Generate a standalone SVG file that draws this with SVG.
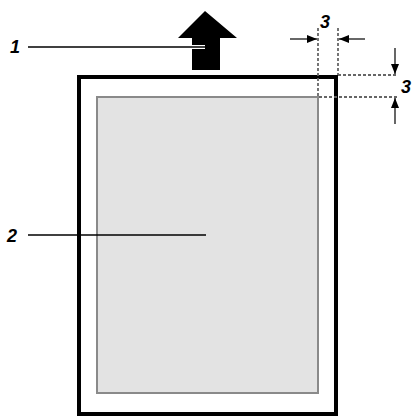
<svg xmlns="http://www.w3.org/2000/svg" width="415" height="420" viewBox="0 0 415 420">
<style>
.lbl{font-family:"Liberation Sans",Arial,sans-serif;font-weight:bold;font-style:italic;font-size:18px;fill:#000}
.dash{stroke:#666;stroke-width:1.8;stroke-dasharray:3 2;fill:none}
.lead{stroke:#000;stroke-width:1.5;fill:none}
.dim{stroke:#000;stroke-width:1.2;fill:none}
</style>
<defs>
<marker id="ah" viewBox="0 0 10 8" refX="10" refY="4" markerWidth="10" markerHeight="8" markerUnits="userSpaceOnUse" orient="auto">
<path d="M0,0 L10,4 L0,8 Z" fill="#000"/>
</marker>
</defs>
<g id="paper">
<rect x="79" y="77" width="257" height="337" fill="#fff" stroke="#000" stroke-width="4"/>
</g>
<g id="print-area">
<rect x="97" y="97" width="221" height="296" fill="#e3e3e3" stroke="#8a8a8a" stroke-width="2"/>
</g>
<g id="feed-arrow">
<path d="M205,11 L237,38 L220,38 L220,70 L192,70 L192,38 L178,38 Z" fill="#000"/>
</g>
<g id="connectors">
<line x1="28" y1="47" x2="205" y2="47" stroke="#fff" stroke-width="4"/>
<line class="lead" x1="28" y1="47" x2="205" y2="47"/>
<line class="lead" x1="28" y1="235" x2="206" y2="235"/>
<line class="dash" x1="318" y1="28" x2="318" y2="96"/>
<line class="dash" x1="338" y1="28" x2="338" y2="75"/>
<line class="dash" x1="338" y1="75" x2="398" y2="75"/>
<line class="dash" x1="319" y1="97" x2="398" y2="97"/>
<line class="dim" x1="290" y1="39" x2="317" y2="39" marker-end="url(#ah)"/>
<line class="dim" x1="365" y1="39" x2="339" y2="39" marker-end="url(#ah)"/>
<line class="dim" x1="395" y1="48" x2="395" y2="74" marker-end="url(#ah)"/>
<line class="dim" x1="395" y1="124" x2="395" y2="98" marker-end="url(#ah)"/>
</g>
<g id="label-1"><text class="lbl" x="10" y="53">1</text></g>
<g id="label-2"><text class="lbl" x="7" y="242">2</text></g>
<g id="label-3-top"><text class="lbl" x="320" y="28">3</text></g>
<g id="label-3-right"><text class="lbl" x="401" y="93">3</text></g>
</svg>
